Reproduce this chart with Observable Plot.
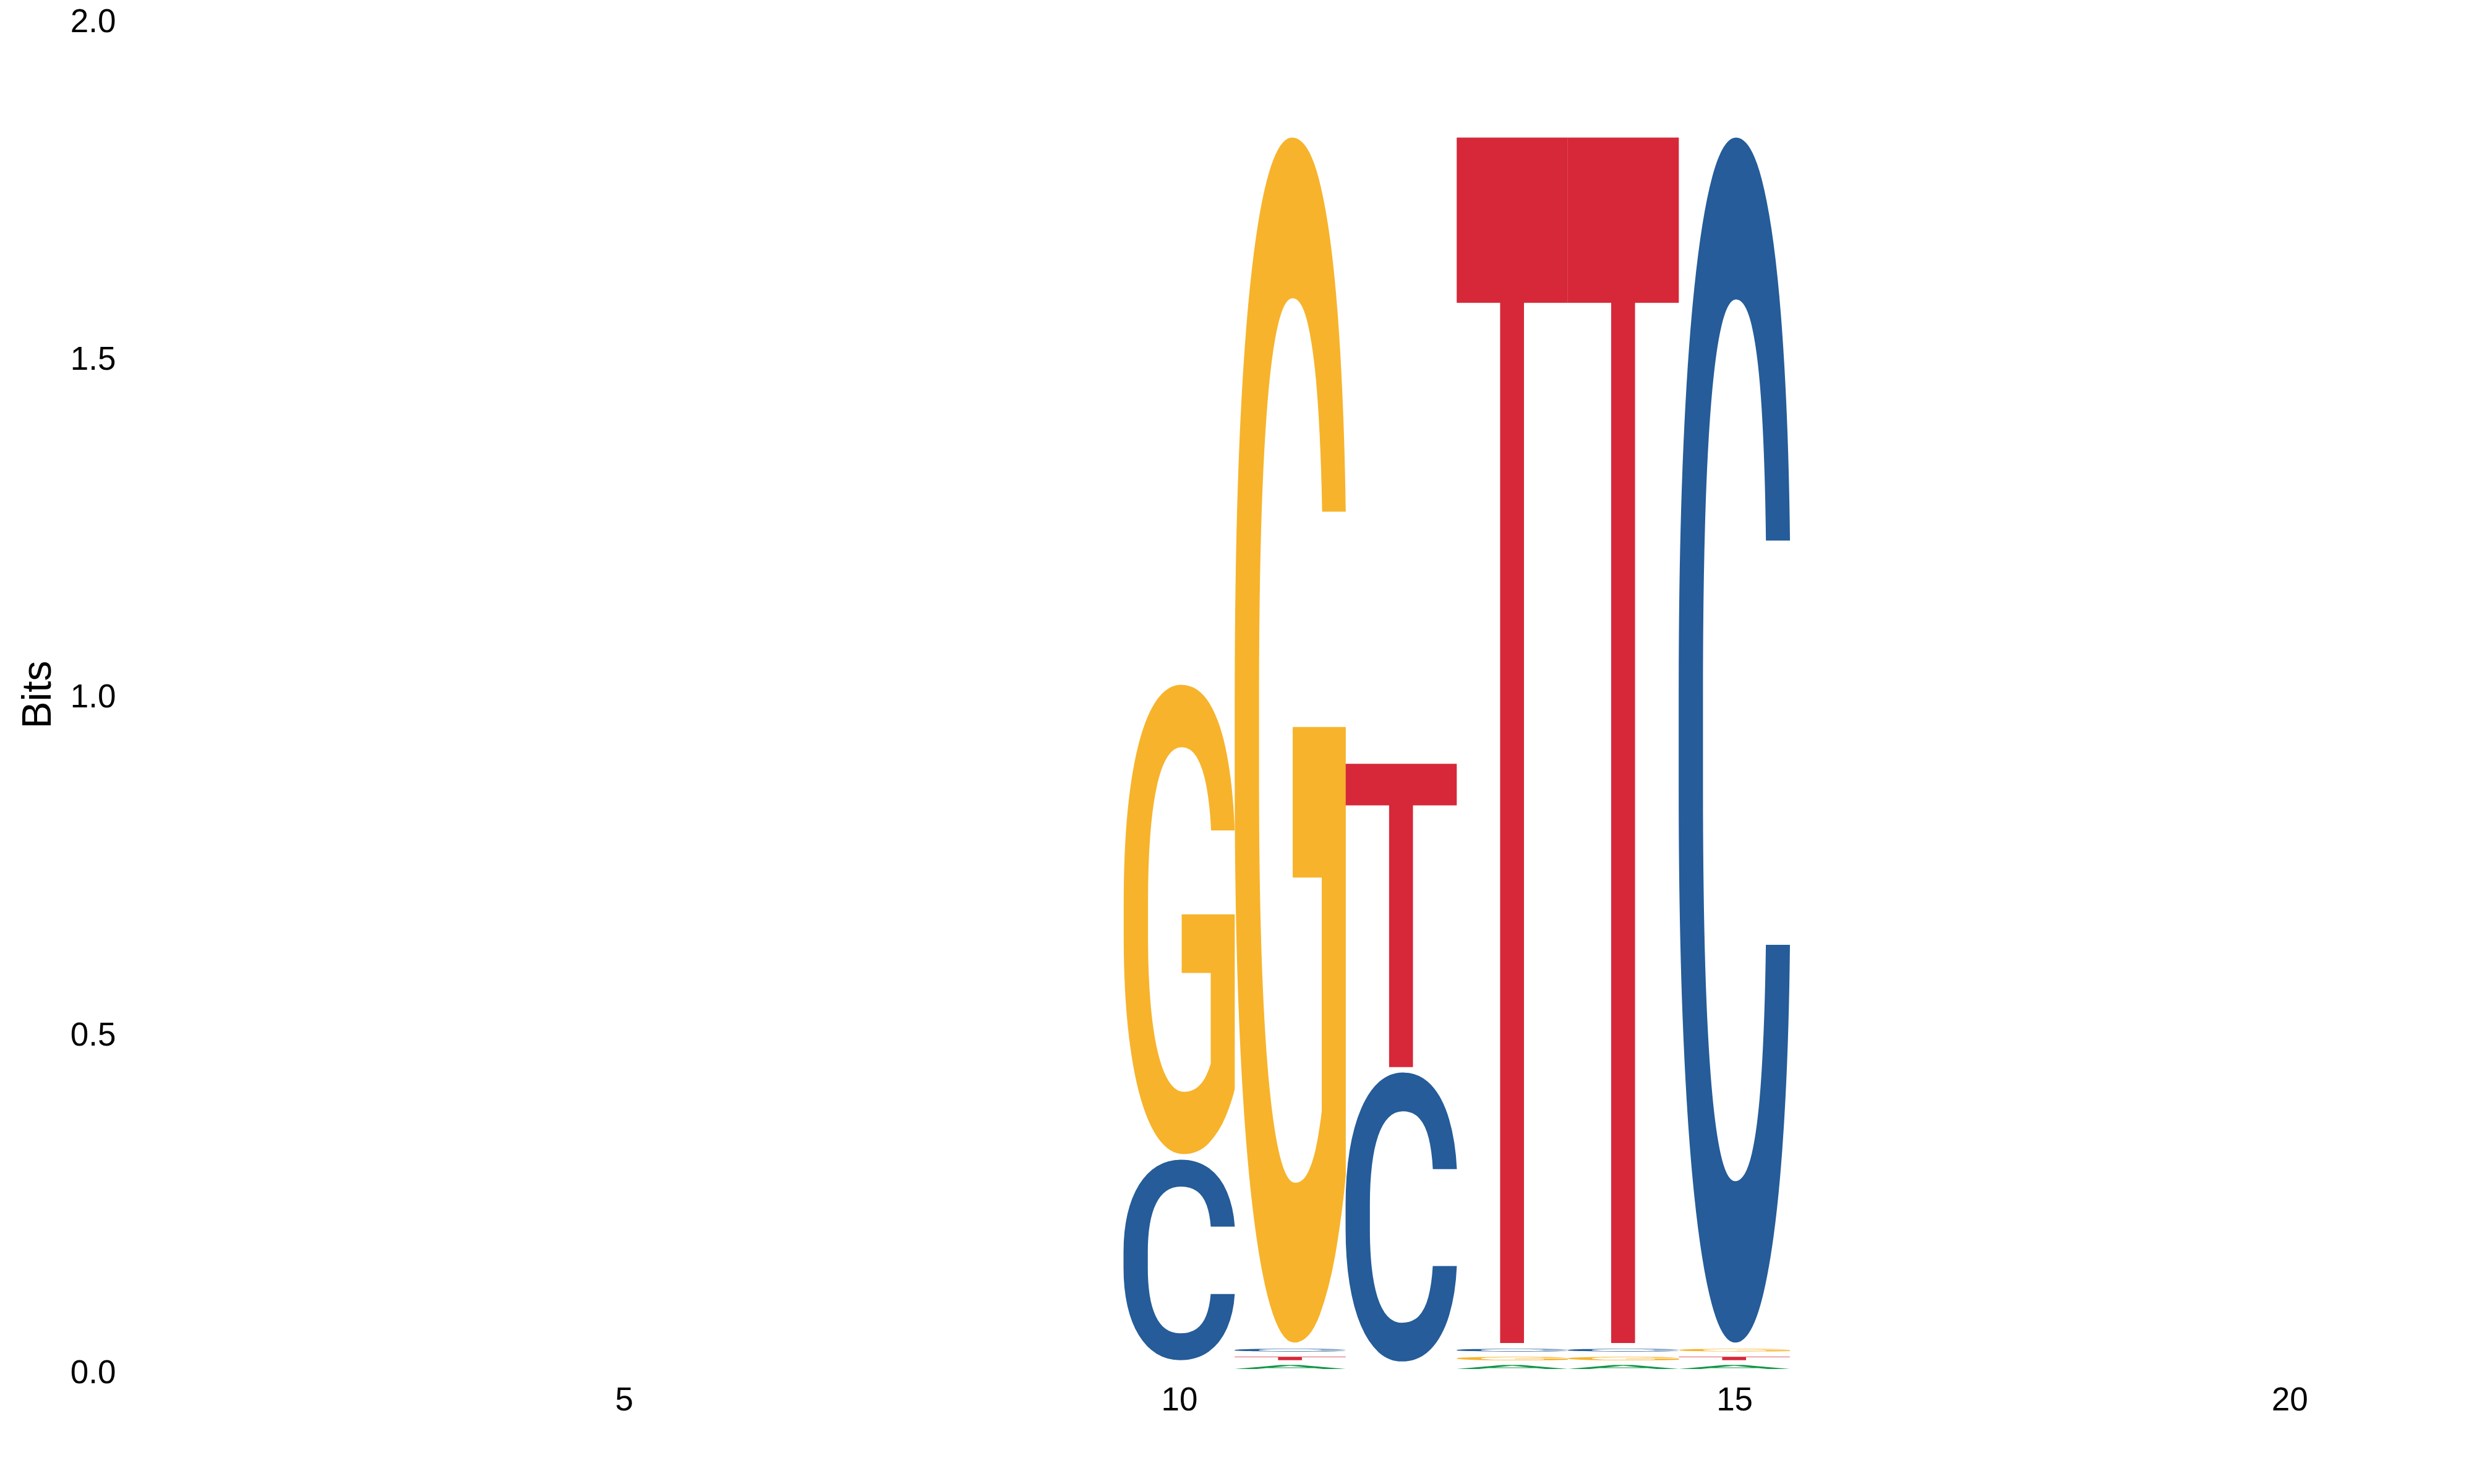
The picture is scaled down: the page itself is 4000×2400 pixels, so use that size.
<!DOCTYPE html>
<html>
<head>
<meta charset="utf-8">
<script src="https://cdn.jsdelivr.net/npm/d3@7"></script>
<script src="https://cdn.jsdelivr.net/npm/@observablehq/plot@0.6"></script>
<style>
  html, body { margin: 0; padding: 0; background: #ffffff; }
  #chart svg { display: block; }
</style>
</head>
<body>
<div id="chart"></div>
<script>
const positions  = [10, 10,   11, 11, 11, 11,   12, 12,   13, 13, 13, 13,   14, 14, 14, 14,   15, 15, 15, 15];
const letters    = ["C","G",  "A","T","C","G",  "C","T",  "A","G","C","T",  "A","G","C","T",  "A","T","G","C"];
const bitsBottom = [0.018, 0.323,  0.005, 0.018, 0.031, 0.0435,  0.016, 0.452,  0.005, 0.018, 0.031, 0.0435,  0.005, 0.018, 0.031, 0.0435,  0.005, 0.018, 0.031, 0.0435];
const bitsTop    = [0.315, 1.018,  0.011, 0.023, 0.035, 1.828,   0.444, 0.901,  0.011, 0.023, 0.035, 1.828,   0.011, 0.023, 0.035, 1.828,   0.011, 0.023, 0.035, 1.828];

const nucleotides      = ["A", "C", "G", "T"];
const nucleotideColors = ["#109648", "#255C99", "#F7B32B", "#D62839"];
const xTicks = [5, 10, 15, 20];
const yTicks = [0, 0.5, 1, 1.5, 2];
const yTitle = "Bits";

const rows = positions.map((p, i) => ({pos: p, letter: letters[i], b0: bitsBottom[i], b1: bitsTop[i]}));

// ---- glyph ink bounds (pixel scan of a canvas rendering) ----
const GLYPH_FAMILY = "Roboto";
const GLYPH_WEIGHT = 500;
const GLYPH_SIZE = 1000;
function inkBounds(L) {
  const W = 1800, H = 1800, ox = 400, oy = 1300;
  const cvs = document.createElement("canvas");
  cvs.width = W; cvs.height = H;
  const ctx = cvs.getContext("2d");
  ctx.font = `${GLYPH_WEIGHT} ${GLYPH_SIZE}px ${GLYPH_FAMILY}`;
  ctx.textAlign = "left";
  ctx.textBaseline = "alphabetic";
  ctx.fillStyle = "#000";
  ctx.fillText(L, ox, oy);
  const data = ctx.getImageData(0, 0, W, H).data;
  let x0 = W, x1 = -1, y0 = H, y1 = -1;
  for (let y = 0; y < H; y++) {
    for (let x = 0; x < W; x++) {
      if (data[(y * W + x) * 4 + 3] > 127) {
        if (x < x0) x0 = x;
        if (x > x1) x1 = x;
        if (y < y0) y0 = y;
        if (y > y1) y1 = y;
      }
    }
  }
  if (x1 < 0) {
    const m = ctx.measureText(L);
    return {left: m.actualBoundingBoxLeft, right: m.actualBoundingBoxRight, ascent: m.actualBoundingBoxAscent, descent: m.actualBoundingBoxDescent};
  }
  return {left: ox - x0, right: x1 + 1 - ox, ascent: oy - y0, descent: y1 + 1 - oy};
}
const metrics = {};
for (const L of nucleotides) metrics[L] = inkBounds(L);

function glyphRender(index, scales, values, dimensions, context) {
  const doc = context.document;
  const ns = "http://www.w3.org/2000/svg";
  const g = doc.createElementNS(ns, "g");
  for (const i of index) {
    const L = rows[i].letter;
    const m = metrics[L];
    const xa = Math.min(values.x1[i], values.x2[i]);
    const xb = Math.max(values.x1[i], values.x2[i]);
    const ya = Math.min(values.y1[i], values.y2[i]);
    const yb = Math.max(values.y1[i], values.y2[i]);
    const inkW = m.left + m.right;
    const inkH = m.ascent + m.descent;
    const sx = (xb - xa) / inkW;
    const sy = (yb - ya) / inkH;
    const t = doc.createElementNS(ns, "text");
    t.setAttribute("font-family", GLYPH_FAMILY);
    t.setAttribute("font-weight", GLYPH_WEIGHT);
    t.setAttribute("font-size", GLYPH_SIZE);
    t.setAttribute("text-anchor", "start");
    t.setAttribute("fill", values.fill ? values.fill[i] : "black");
    t.setAttribute("transform", `translate(${xa},${ya}) scale(${sx},${sy}) translate(${m.left},${m.ascent})`);
    t.textContent = L;
    g.appendChild(t);
  }
  return g;
}

const chart = Plot.plot({
  width: 4000,
  height: 2400,
  marginLeft: 201,
  marginRight: 29,
  marginTop: 34.5,
  marginBottom: 180.5,
  style: {fontFamily: "'Liberation Sans', Arial, Helvetica, sans-serif", color: "#000", background: "#fff"},
  x: {domain: [0.5, 21.5]},
  y: {domain: [0, 2]},
  color: {domain: nucleotides, range: nucleotideColors},
  marks: [
    Plot.rect(rows, {
      x1: d => d.pos - 0.5003,
      x2: d => d.pos + 0.5003,
      y1: "b0",
      y2: "b1",
      fill: "letter",
      render: glyphRender
    }),
    Plot.axisY({ticks: yTicks, tickFormat: d3.format(".1f"), tickSize: 0, tickPadding: 14, fontSize: 53, label: null, fill: "#000"}),
    Plot.axisX({ticks: xTicks, tickFormat: d3.format("d"), tickSize: 0, tickPadding: 23, fontSize: 53, label: null, fill: "#000"}),
    Plot.text([yTitle], {frameAnchor: "left", textAnchor: "middle", text: d => d, rotate: -90, dx: -140.5, dy: -4, fontSize: 66, fill: "#000"})
  ]
});
document.getElementById("chart").appendChild(chart);
</script>
</body>
</html>
